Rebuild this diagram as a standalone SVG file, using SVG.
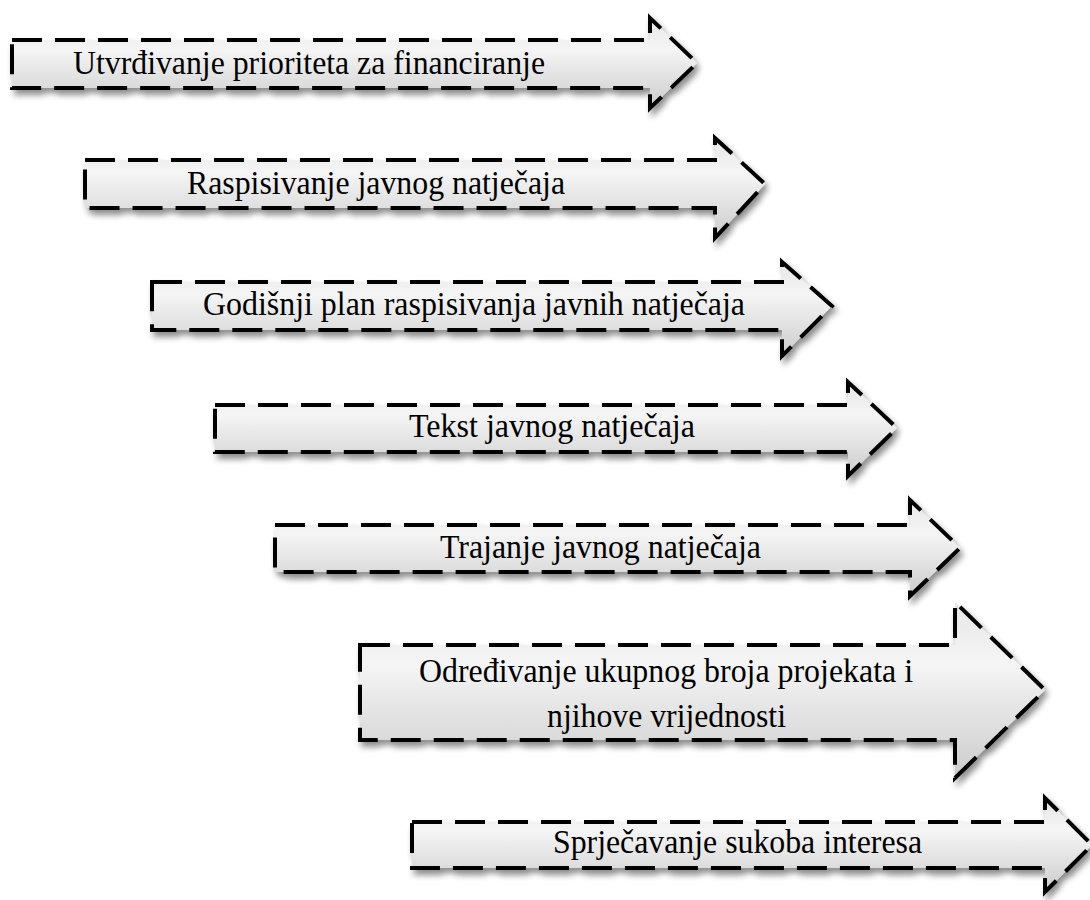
<svg xmlns="http://www.w3.org/2000/svg" width="1090" height="900" viewBox="0 0 1090 900">
<defs>
<linearGradient id="g" x1="0" y1="0" x2="0" y2="1">
<stop offset="0" stop-color="#e6e6e6"/>
<stop offset="0.35" stop-color="#f5f5f5"/>
<stop offset="1" stop-color="#cccccc"/>
</linearGradient>
<filter id="sh" x="-5%" y="-20%" width="115%" height="150%">
<feGaussianBlur in="SourceAlpha" stdDeviation="3"/>
<feOffset dx="3" dy="5" result="b"/>
<feComponentTransfer><feFuncA type="linear" slope="0.45"/></feComponentTransfer>
<feMerge><feMergeNode/><feMergeNode in="SourceGraphic"/></feMerge>
</filter>
</defs>
<style>
.a{fill:url(#g);stroke:#000;stroke-width:4;stroke-dasharray:30 13;stroke-linejoin:miter;filter:url(#sh)}
.t{font-family:"Liberation Serif","Times New Roman",serif;font-size:33px;fill:#000}
</style>
<g id="n1"><path class="a" d="M12,40 H650 V18 L697,63 L650,108 V88 H12 Z"/><text class="t" x="73" y="74" textLength="472" lengthAdjust="spacingAndGlyphs">Utvrđivanje prioriteta za financiranje</text></g>
<g id="n2"><path class="a" d="M85,160 H715 V138 L765,184 L715,238 V208 H85 Z"/><text class="t" x="187" y="194" textLength="378" lengthAdjust="spacingAndGlyphs">Raspisivanje javnog natječaja</text></g>
<g id="n3"><path class="a" d="M152,282 H782 V262 L832,306 L782,356 V330 H152 Z"/><text class="t" x="203" y="315" textLength="542" lengthAdjust="spacingAndGlyphs">Godišnji plan raspisivanja javnih natječaja</text></g>
<g id="n4"><path class="a" d="M215,405 H848 V382 L897,428 L848,476 V452 H215 Z"/><text class="t" x="409" y="437" textLength="286" lengthAdjust="spacingAndGlyphs">Tekst javnog natječaja</text></g>
<g id="n5"><path class="a" d="M275,525 H910 V500 L960,548 L910,596 V572 H275 Z"/><text class="t" x="440" y="558" textLength="321" lengthAdjust="spacingAndGlyphs">Trajanje javnog natječaja</text></g>
<g id="n6"><path class="a" d="M360,645 H955 V602 L1045,690 L955,778 V740 H360 Z"/><text class="t" x="419" y="682" textLength="494" lengthAdjust="spacingAndGlyphs">Određivanje ukupnog broja projekata i</text><text class="t" x="547" y="727" textLength="239" lengthAdjust="spacingAndGlyphs">njihove vrijednosti</text></g>
<g id="n7"><path class="a" d="M412,822 H1045 V798 L1092,845 L1045,892 V868 H412 Z"/><text class="t" x="553" y="853" textLength="369" lengthAdjust="spacingAndGlyphs">Sprječavanje sukoba interesa</text></g>
<g id="connectors"></g>
</svg>
